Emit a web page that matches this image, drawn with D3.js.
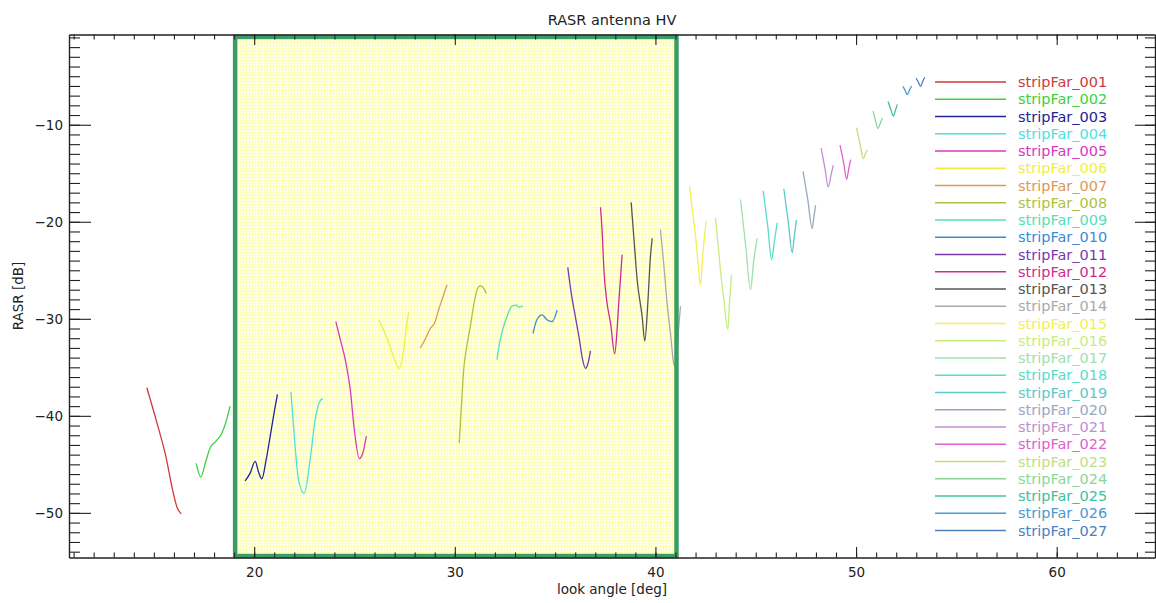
<!DOCTYPE html>
<html>
<head>
<meta charset="utf-8">
<script src="https://cdn.jsdelivr.net/npm/d3@7"></script>
<style>
  html, body { margin: 0; padding: 0; background: #fff; }
  svg { display: block; }
  text { font-family: "DejaVu Sans", "Liberation Sans", sans-serif; }
</style>
</head>
<body>
<svg id="chart" width="1156" height="603"></svg>
<script>
// ---------- data ----------
const chartTitle = "RASR antenna HV";
const xLabel = "look angle [deg]";
const yLabel = "RASR [dB]";
const xTickValues = [20, 30, 40, 50, 60];
const yTickValues = [-10, -20, -30, -40, -50];
const xDomain = [10.77, 64.9];
const yDomain = [-54.6, -0.7];
const highlightRange = { x0: 19.05, x1: 41.05, y0: -54.45, y1: -0.95 };

const stripNames = d3.range(1, 28).map(i => "stripFar_" + String(i).padStart(3, "0"));
const stripColors = [
  "#cc3a3a", "#3dd13d", "#22229a", "#4ee0e0", "#d838c0", "#f0f03c", "#d99a55",
  "#b0c040", "#55e0bb", "#3a8ad8", "#7a38b0", "#d02a90", "#555555", "#aaaaaa",
  "#f2f055", "#c8ec80", "#9ee0b0", "#55ddcc", "#5cc8c8", "#98a8c0", "#c090d0",
  "#e060d0", "#c0e080", "#88d898", "#40c0a0", "#4a9ad0", "#4a80c0"
];

const lookAngles = [
  [14.65, 15.15, 15.6, 15.93, 16.15, 16.36],
  [17.11, 17.34, 17.6, 17.81, 18.1, 18.39, 18.6, 18.8],
  [19.55, 19.8, 20.05, 20.22, 20.38, 20.6, 20.8, 21.0, 21.16],
  [21.83, 22.0, 22.21, 22.49, 22.79, 23.04, 23.25, 23.42],
  [24.07, 24.3, 24.54, 24.79, 24.99, 25.24, 25.42, 25.59],
  [26.2, 26.5, 26.78, 27.05, 27.23, 27.45, 27.58, 27.7],
  [28.28, 28.55, 28.78, 29.0, 29.19, 29.4, 29.61],
  [30.22, 30.33, 30.44, 30.6, 30.77, 30.95, 31.11, 31.27, 31.42, 31.57],
  [32.1, 32.25, 32.43, 32.65, 32.85, 33.07, 33.18, 33.4],
  [33.9, 34.09, 34.35, 34.59, 34.85, 35.1],
  [35.63, 35.8, 36.01, 36.2, 36.35, 36.51, 36.65, 36.76],
  [37.26, 37.34, 37.43, 37.59, 37.76, 37.97, 38.09, 38.17, 38.34],
  [38.79, 38.92, 39.09, 39.34, 39.47, 39.62, 39.75, 39.84],
  [40.25, 40.42, 40.58, 40.75, 40.91, 41.02, 41.12, 41.25],
  [41.7, 41.85, 42.0, 42.12, 42.24, 42.38, 42.53],
  [42.99, 43.12, 43.24, 43.42, 43.61, 43.7, 43.79],
  [44.24, 44.5, 44.74, 44.9, 45.07],
  [45.37, 45.6, 45.79, 45.93, 46.07],
  [46.4, 46.62, 46.82, 46.92, 47.03],
  [47.36, 47.6, 47.81, 47.9, 47.98],
  [48.26, 48.45, 48.61, 48.75, 48.86],
  [49.2, 49.38, 49.53, 49.63, 49.73],
  [50.02, 50.2, 50.36, 50.46, 50.56],
  [50.85, 50.97, 51.09, 51.2, 51.31],
  [51.59, 51.73, 51.86, 51.96, 52.06],
  [52.34, 52.45, 52.55, 52.66, 52.77],
  [52.99, 53.1, 53.22, 53.32, 53.42]
];

const rasrValues = [
  [-37.1, -40.7, -44.2, -47.6, -49.4, -50.1],
  [-44.9, -46.3, -44.6, -43.3, -42.6, -41.8, -40.6, -39.0],
  [-46.7, -45.9, -44.7, -45.8, -46.5, -44.5, -42.1, -39.6, -37.8],
  [-37.5, -42.1, -46.6, -48.0, -44.5, -40.4, -38.6, -38.2],
  [-30.3, -32.2, -34.2, -37.3, -41.4, -44.4, -43.8, -42.1],
  [-30.1, -31.4, -32.9, -34.5, -35.1, -33.2, -31.0, -29.3],
  [-33.0, -32.0, -31.0, -30.4, -29.1, -27.8, -26.5],
  [-42.8, -39.0, -35.3, -32.8, -30.8, -28.5, -27.0, -26.6, -26.8, -27.4],
  [-34.2, -32.3, -30.8, -29.5, -28.7, -28.6, -28.8, -28.7],
  [-31.5, -30.1, -29.6, -30.1, -30.3, -29.1],
  [-24.7, -27.3, -29.8, -32.0, -34.0, -35.1, -34.5, -33.3],
  [-18.5, -20.8, -24.9, -28.4, -30.4, -33.6, -31.1, -28.4, -23.4],
  [-18.0, -21.5, -26.0, -29.8, -32.3, -28.4, -23.6, -21.7],
  [-20.8, -24.5, -28.4, -31.5, -34.6, -35.1, -32.0, -28.7],
  [-16.3, -19.0, -21.5, -24.2, -26.5, -23.0, -19.9],
  [-19.6, -22.3, -25.0, -28.2, -31.1, -28.0, -25.5],
  [-17.7, -22.5, -27.0, -24.0, -21.7],
  [-16.8, -20.5, -23.9, -22.0, -20.1],
  [-16.6, -20.0, -23.2, -21.5, -19.8],
  [-14.8, -17.8, -20.7, -19.5, -18.3],
  [-12.4, -14.5, -16.4, -15.2, -14.2],
  [-12.1, -13.9, -15.6, -14.6, -13.6],
  [-10.3, -12.0, -13.5, -13.0, -12.6],
  [-8.6, -9.6, -10.4, -9.9, -9.3],
  [-7.6, -8.4, -9.1, -8.5, -7.9],
  [-6.05, -6.5, -6.9, -6.45, -6.0],
  [-5.2, -5.6, -6.05, -5.55, -5.1]
];

// ---------- layout ----------
const W = 1156, H = 603;
const plot = { left: 69, right: 1155, top: 34.5, bottom: 557.5 };
const svg = d3.select("#chart");

const x = d3.scaleLinear().domain(xDomain).range([plot.left, plot.right]);
const y = d3.scaleLinear().domain(yDomain).range([plot.bottom, plot.top]);

// pattern for highlight region
const defs = svg.append("defs");
const pat = defs.append("pattern").attr("id", "ygrid")
  .attr("width", 3).attr("height", 3).attr("patternUnits", "userSpaceOnUse");
pat.append("rect").attr("width", 3).attr("height", 3).attr("fill", "#ffffee");
pat.append("rect").attr("x", 0).attr("y", 0).attr("width", 3).attr("height", 1).attr("fill", "#fefeb8");
pat.append("rect").attr("x", 0).attr("y", 0).attr("width", 1).attr("height", 3).attr("fill", "#fefeb8");

svg.append("rect")
  .attr("x", x(highlightRange.x0)).attr("y", y(highlightRange.y1))
  .attr("width", x(highlightRange.x1) - x(highlightRange.x0))
  .attr("height", y(highlightRange.y0) - y(highlightRange.y1))
  .attr("fill", "url(#ygrid)");

// curves
const line = d3.line()
  .x(d => x(d[0])).y(d => y(d[1]))
  .curve(d3.curveMonotoneX);

const curves = svg.append("g").attr("fill", "none");
lookAngles.forEach((xs, i) => {
  const pts = xs.map((a, j) => [a, rasrValues[i][j]]);
  curves.append("path")
    .attr("d", line(pts))
    .attr("stroke", stripColors[i])
    .attr("stroke-width", 1.3)
    .attr("stroke-linejoin", "round");
});

// highlight border
svg.append("rect")
  .attr("x", x(highlightRange.x0)).attr("y", y(highlightRange.y1))
  .attr("width", x(highlightRange.x1) - x(highlightRange.x0))
  .attr("height", y(highlightRange.y0) - y(highlightRange.y1))
  .attr("fill", "none")
  .attr("stroke", "#3d9c66")
  .attr("stroke-width", 4.5);

// ---------- axes ----------
const axisColor = "#222";
const fmt = d => (d < 0 ? "\u2212" + Math.abs(d) : String(d));
const xMinor = d3.range(11, 65);
const yMinor = d3.range(-54, 0);

function styleAxis(g) {
  g.selectAll("path.domain").attr("stroke", axisColor).attr("stroke-width", 1.2);
  g.selectAll(".tick line").attr("stroke", axisColor).attr("stroke-width", 1.1);
  g.selectAll(".tick text").attr("fill", "#222").style("font-size", "13.5px");
}

// bottom
svg.append("g").attr("transform", `translate(0,${plot.bottom})`)
  .call(d3.axisBottom(x).tickValues(xMinor).tickSize(-5).tickSizeOuter(0).tickFormat(""))
  .call(styleAxis);
svg.append("g").attr("transform", `translate(0,${plot.bottom})`)
  .call(d3.axisBottom(x).tickValues(xTickValues).tickSize(-10.5).tickSizeOuter(0).tickPadding(10).tickFormat(fmt))
  .call(styleAxis);
// top
svg.append("g").attr("transform", `translate(0,${plot.top})`)
  .call(d3.axisTop(x).tickValues(xMinor).tickSize(-5).tickSizeOuter(0).tickFormat(""))
  .call(styleAxis);
svg.append("g").attr("transform", `translate(0,${plot.top})`)
  .call(d3.axisTop(x).tickValues(xTickValues).tickSize(-10.5).tickSizeOuter(0).tickFormat(""))
  .call(styleAxis);
// left
svg.append("g").attr("transform", `translate(${plot.left},0)`)
  .call(d3.axisLeft(y).tickValues(yMinor).tickSize(-11).tickSizeOuter(0).tickFormat(""))
  .call(styleAxis);
svg.append("g").attr("transform", `translate(${plot.left},0)`)
  .call(d3.axisLeft(y).tickValues(yTickValues).tickSize(-22).tickSizeOuter(0).tickPadding(6).tickFormat(fmt))
  .call(styleAxis);
// right
svg.append("g").attr("transform", `translate(${plot.right},0)`)
  .call(d3.axisRight(y).tickValues(yMinor).tickSize(-10).tickSizeOuter(0).tickFormat(""))
  .call(styleAxis);
svg.append("g").attr("transform", `translate(${plot.right},0)`)
  .call(d3.axisRight(y).tickValues(yTickValues).tickSize(-20).tickSizeOuter(0).tickFormat(""))
  .call(styleAxis);

// titles
const cx = (plot.left + plot.right) / 2;
svg.append("text").attr("x", cx).attr("y", 25).attr("text-anchor", "middle")
  .attr("fill", "#222").style("font-size", "14.5px").text(chartTitle);
svg.append("text").attr("x", cx).attr("y", 594).attr("text-anchor", "middle")
  .attr("fill", "#222").style("font-size", "13.5px").text(xLabel);
svg.append("text").attr("transform", `translate(23,${(plot.top + plot.bottom) / 2}) rotate(-90)`)
  .attr("text-anchor", "middle").attr("fill", "#222").style("font-size", "13.5px").text(yLabel);

// ---------- legend ----------
const legend = svg.append("g");
const legendY = d3.scaleLinear().domain([0, 26]).range([82, 530.5]);
stripNames.forEach((name, i) => {
  const yy = legendY(i);
  legend.append("line").attr("x1", 935).attr("x2", 1006).attr("y1", yy).attr("y2", yy)
    .attr("stroke", stripColors[i]).attr("stroke-width", 1.4);
  legend.append("text").attr("x", 1018).attr("y", yy).attr("dy", "0.35em")
    .attr("fill", stripColors[i]).style("font-size", "14.5px").text(name);
});
</script>
</body>
</html>
